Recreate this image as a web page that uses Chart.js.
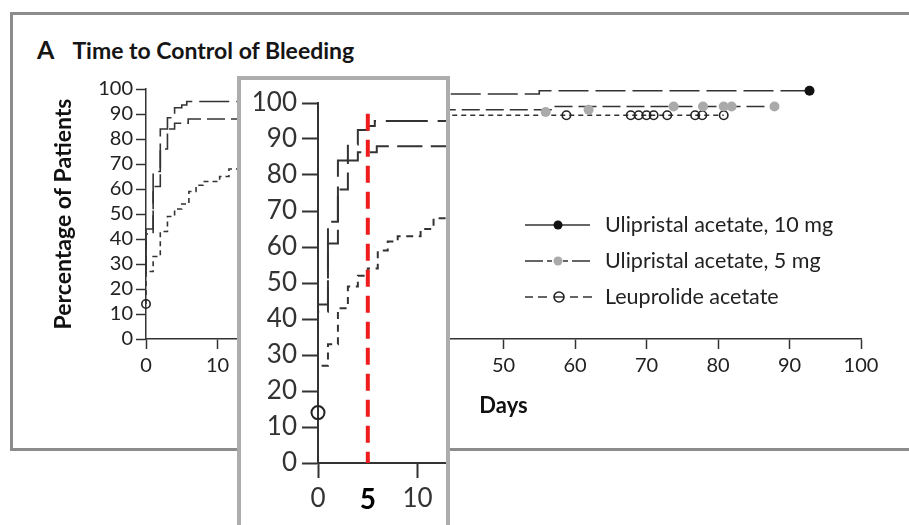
<!DOCTYPE html>
<html>
<head>
<meta charset="utf-8">
<script src="https://cdn.jsdelivr.net/npm/chart.js@4.4.1/dist/chart.umd.min.js"></script>
<style>
body{margin:0;background:#fff;width:909px;height:525px;overflow:hidden;position:relative;font-family:Lato,sans-serif;}
#frame{position:absolute;left:10px;top:12px;width:940px;height:433px;border:3px solid #8c8c8c;border-right:none;}
#title{position:absolute;left:37px;top:35px;font-weight:bold;color:#151515;white-space:nowrap;line-height:28px;}
#title .letter{font-size:25px;margin-right:18px;}
#title .text{font-size:23px;}
#main{position:absolute;left:0;top:0;}
#inset{position:absolute;left:237px;top:76px;width:205px;height:470px;border:4px solid #adadad;background:#fff;overflow:hidden;}
#insetChart{position:absolute;left:0;top:0;}
</style>
</head>
<body>
<div id="frame"></div>
<div id="title"><span class="letter">A</span><span class="text">Time to Control of Bleeding</span></div>
<canvas id="main" width="909" height="525"></canvas>
<div id="inset"><canvas id="insetChart" width="215" height="450"></canvas></div>
<script>
'use strict';
let seriesNames = ['Ulipristal acetate, 10 mg', 'Ulipristal acetate, 5 mg', 'Leuprolide acetate'];

// step curves: day where the level starts, percentage from that day on
let days10 = [0, 1, 2, 3, 4, 5, 5.7, 20, 30, 38, 55, 61, 92.8];
let pct10 = [27.5, 44, 67, 84, 88.5, 92.5, 93.6, 95, 96, 97, 98, 99.3, 99.3];
let days5 = [0, 1, 2, 3, 4, 5.9, 16, 25, 35, 57, 62.8, 87.9];
let pct5 = [26, 42, 61, 76, 84, 86.3, 88, 89.5, 90.8, 91.7, 93, 93];
let daysLeu = [0, 1, 2, 3, 4, 5, 6, 7, 8, 10.3, 11.6, 14, 17, 20, 24, 28, 33, 38, 41, 80.8];
let pctLeu = [14, 27, 33, 43, 49, 52, 54, 59, 61.5, 63, 65, 68, 72, 76, 80, 83, 86, 88, 89.5, 89.5];

// censored patients
let censorDays10 = [92.8];
let censorPct10 = [99.3];
let censorDays5 = [55.9, 61.9, 73.8, 77.9, 80.8, 81.9, 87.9];
let censorPct5 = [90.8, 91.7, 93, 93, 93, 93, 93];
let censorDaysLeu = [0, 58.8, 67.8, 68.9, 70, 71, 72.9, 76.8, 77.8, 80.8];
let censorPctLeu = [14, 89.5, 89.5, 89.5, 89.5, 89.5, 89.5, 89.5, 89.5, 89.5];

let dayTicks = [0, 10, 20, 30, 40, 50, 60, 70, 80, 90, 100];
let pctTicks = [0, 10, 20, 30, 40, 50, 60, 70, 80, 90, 100];
let insetDayTicks = [0, 5, 10];
let markerDay = 5;
let markerTop = 97;

function toPoints(days, pct){
    return days.map((d, i) => ({x: d, y: pct[i]}));
}

function stepLine(days, pct, dash, width){
    return {data: toPoints(days, pct), stepped: 'after', borderColor: '#333', borderWidth: width,
        borderDash: dash, pointRadius: 0, fill: false};
}

function censorMarks(days, pct, radius, fill, stroke, strokeWidth){
    return {data: toPoints(days, pct), showLine: false, pointRadius: radius, pointStyle: 'circle',
        pointBackgroundColor: fill, pointBorderColor: stroke, pointBorderWidth: strokeWidth, clip: false};
}

function buildSets(big){
    let k = big ? 1.4 : 1;
    let w = big ? 2 : 1.6;
    let sets = [
        censorMarks(censorDays10, censorPct10, 5, '#111', '#111', 0),
        censorMarks(censorDays5, censorPct5, 5, '#aaa', '#aaa', 0),
        censorMarks(censorDaysLeu, censorPctLeu, big ? 6.5 : 4.2, 'rgba(255,255,255,0)', '#222', big ? 2 : 1.6),
        stepLine(days10, pct10, [30 * k, 7 * k], w),
        stepLine(days5, pct5, [18 * k, 6 * k], w),
        stepLine(daysLeu, pctLeu, [5 * k, 4 * k], w)
    ];
    if (big){
        sets.unshift({data: [{x: markerDay, y: markerTop}, {x: markerDay, y: 0}], borderColor: '#ee1c1c',
            borderWidth: 4, borderDash: [17, 9], pointRadius: 0, fill: false});
    }
    return sets;
}

let legendPlugin = {
    id: 'sideLegend',
    afterDraw(chart){
        let ctx = chart.ctx;
        let rows = [
            {segs: [[525, 590]], dot: '#111', open: false},
            {segs: [[525, 543], [547, 552], [563, 568], [572, 590]], dot: '#aaa', open: false},
            {segs: [[525, 533], [538, 547], [554, 564], [570, 578], [583, 592]], dot: '#222', open: true}
        ];
        ctx.save();
        for (let i = 0; i < rows.length; i++){
            let y = 225 + i * 36;
            ctx.strokeStyle = '#333';
            ctx.lineWidth = 1.6;
            ctx.beginPath();
            rows[i].segs.forEach(s => { ctx.moveTo(s[0], y); ctx.lineTo(s[1], y); });
            ctx.stroke();
            ctx.beginPath();
            if (rows[i].open){
                ctx.arc(559, y, 5, 0, Math.PI * 2);
                ctx.strokeStyle = rows[i].dot;
                ctx.stroke();
            } else {
                ctx.arc(558, y, 4.5, 0, Math.PI * 2);
                ctx.fillStyle = rows[i].dot;
                ctx.fill();
            }
            ctx.fillStyle = '#222';
            ctx.font = '21.5px Lato';
            ctx.textBaseline = 'middle';
            ctx.fillText(seriesNames[i], 605, y);
        }
        ctx.restore();
    }
};

let axisGrid = {drawOnChartArea: false, tickLength: 10, tickColor: '#333', tickWidth: 1.5};
let axisBorder = {color: '#333', width: 1.5};

new Chart(document.getElementById('main'), {
    type: 'line',
    data: {datasets: buildSets(false)},
    options: {
        responsive: false,
        animation: false,
        devicePixelRatio: 1,
        layout: {padding: {left: 50, top: 89, right: 48, bottom: 106}},
        plugins: {legend: {display: false}, tooltip: {enabled: false}, title: {display: false}},
        scales: {
            x: {
                type: 'linear', min: 0, max: 100,
                afterBuildTicks: s => { s.ticks = dayTicks.map(v => ({value: v})); },
                afterFit: s => { s.height = 80; },
                grid: axisGrid, border: axisBorder,
                ticks: {color: '#222', font: {family: 'Lato', size: 20}, padding: 5, maxRotation: 0, autoSkip: false},
                title: {display: true, text: 'Days', color: '#111',
                    font: {family: 'Lato', size: 22, weight: 'bold'}, padding: {top: 0, bottom: 0}}
            },
            y: {
                type: 'linear', min: 0, max: 100,
                afterBuildTicks: s => { s.ticks = pctTicks.map(v => ({value: v})); },
                afterFit: s => { s.width = 96; },
                grid: axisGrid, border: axisBorder,
                ticks: {color: '#222', font: {family: 'Lato', size: 20}, padding: 3, autoSkip: false},
                title: {display: true, text: 'Percentage of Patients', color: '#111',
                    font: {family: 'Lato', size: 23, weight: 'bold'}, padding: {top: 0, bottom: 0}}
            }
        }
    },
    plugins: [legendPlugin]
});

let isMarker = c => !!(c.tick && c.tick.value === markerDay);

new Chart(document.getElementById('insetChart'), {
    type: 'line',
    data: {datasets: buildSets(true)},
    options: {
        responsive: false,
        animation: false,
        devicePixelRatio: 1,
        layout: {padding: {left: 0, top: 23, right: 5, bottom: 7}},
        plugins: {legend: {display: false}, tooltip: {enabled: false}},
        scales: {
            x: {
                type: 'linear', min: 0, max: 13,
                afterBuildTicks: s => { s.ticks = insetDayTicks.map(v => ({value: v})); },
                afterFit: s => { s.height = 60; },
                grid: {drawOnChartArea: false, tickLength: 15, tickWidth: 2,
                    tickColor: c => isMarker(c) ? 'rgba(0,0,0,0)' : '#333'},
                border: {color: '#333', width: 2},
                ticks: {padding: 5, maxRotation: 0, autoSkip: false,
                    color: c => isMarker(c) ? '#000' : '#333',
                    font: c => ({family: 'Lato', size: isMarker(c) ? 28 : 26, weight: isMarker(c) ? 'bold' : 'normal'})}
            },
            y: {
                type: 'linear', min: 0, max: 100,
                afterBuildTicks: s => { s.ticks = pctTicks.map(v => ({value: v})); },
                afterFit: s => { s.width = 77; },
                grid: {drawOnChartArea: false, tickLength: 16, tickColor: '#333', tickWidth: 2},
                border: {color: '#333', width: 2},
                ticks: {color: '#333', font: {family: 'Lato', size: 26}, padding: 5, autoSkip: false}
            }
        }
    }
});
</script>
</body>
</html>
